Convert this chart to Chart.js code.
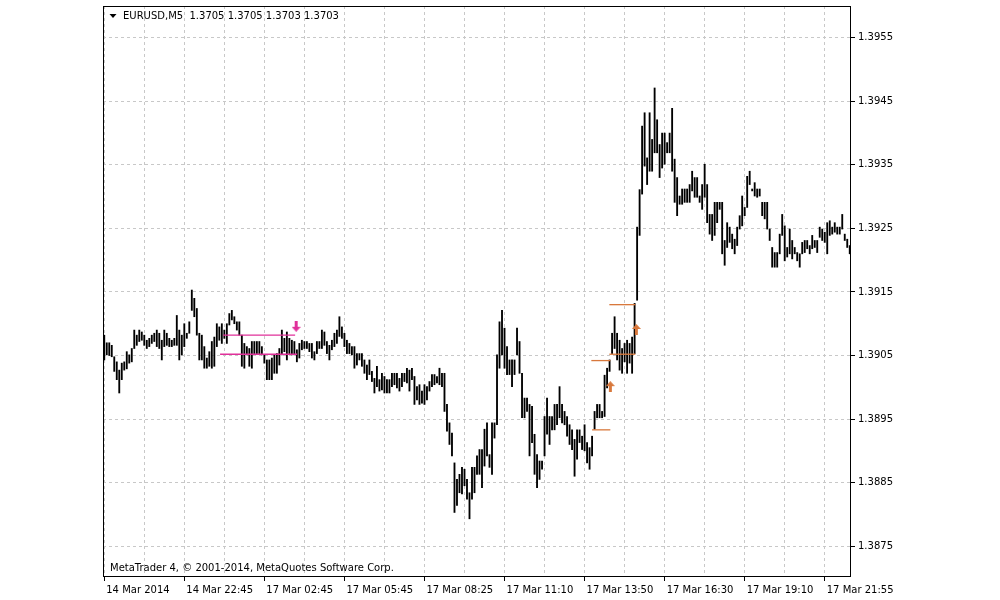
<!DOCTYPE html>
<html>
<head>
<meta charset="utf-8">
<script src="https://cdn.jsdelivr.net/npm/chart.js@4/dist/chart.umd.min.js"></script>
<style>
  html, body { margin: 0; background: #fff; }
</style>
</head>
<body>
<canvas id="chart" width="1000" height="600"></canvas>
<script>
// EURUSD M5 bars, values are pips above BASE
const BASE = 1.38;

const highs = [
  108.2,107.0,107.0,106.6,104.8,104.0,102.7,103.8,104.0,105.6,105.1,106.1,109.0,108.2,109.0,108.7,108.2,107.4,107.7,108.2,
  108.5,109.0,108.5,107.4,109.0,108.5,107.7,107.4,107.7,111.3,109.0,108.2,110.0,108.5,110.3,115.3,114.0,112.4,108.5,108.2,
  106.4,104.6,105.6,107.2,107.9,110.0,109.5,110.0,109.0,110.0,
  111.6,112.1,111.1,110.3,110.3,108.2,106.9,106.4,106.1,107.2,107.2,107.2,107.2,106.4,105.1,104.3,104.3,104.6,105.1,105.3,
  106.1,109.0,107.7,108.7,107.7,107.4,107.2,105.9,106.9,107.4,107.2,107.2,106.9,106.9,105.6,107.2,107.2,109.0,108.7,107.2,
  106.6,107.4,108.5,109.0,111.1,109.5,108.5,107.4,106.9,106.4,
  106.4,105.3,105.3,105.3,104.3,103.5,104.3,102.5,101.4,103.3,101.2,102.2,101.7,101.2,101.2,102.2,102.2,102.2,101.4,102.2,
  102.2,103.0,102.7,103.0,101.7,100.1,100.4,99.4,100.4,100.1,100.9,102.0,102.0,101.7,103.0,102.2,102.2,97.3,94.4,92.8,
  88.1,85.5,86.3,87.4,87.1,85.5,83.4,87.4,87.4,89.2,
  90.2,90.2,93.4,94.4,89.4,94.4,94.4,105.1,110.3,112.1,109.3,106.4,104.3,104.3,104.3,109.3,107.2,102.2,98.3,98.3,
  97.3,97.0,92.6,89.4,88.4,88.4,95.4,98.3,95.4,95.4,97.3,97.3,100.1,97.3,96.2,95.4,94.1,93.3,91.8,93.3,
  93.3,92.3,94.1,91.3,90.5,92.3,96.2,97.3,97.3,96.2,
  101.9,103.0,104.3,108.5,111.1,108.5,107.4,106.1,106.9,107.4,106.9,107.9,113.2,125.2,131.1,141.1,143.2,136.1,143.2,139.0,
  147.1,142.1,138.2,140.0,140.0,138.5,140.0,143.9,135.9,133.0,130.1,131.2,131.2,131.2,131.9,134.0,133.0,133.0,130.1,131.9,
  135.1,131.9,127.2,127.2,129.1,129.1,129.1,129.1,123.1,125.9,
  125.2,124.1,123.3,125.2,127.0,130.1,128.3,133.2,134.0,131.2,132.2,131.2,131.2,129.1,129.1,129.1,124.9,122.0,121.2,121.2,
  124.1,127.2,125.4,122.0,124.9,123.1,122.0,121.2,121.0,122.8,123.1,123.1,122.3,123.9,123.1,123.1,125.2,124.9,124.4,125.9,
  126.2,125.2,125.9,125.2,125.2,127.2,124.1,123.3,122.3
];

const lows = [
  104.3,105.1,105.0,104.8,102.5,101.2,99.1,101.2,102.7,102.9,103.8,104.0,106.1,106.6,107.2,107.4,106.6,106.1,106.4,106.9,
  107.2,106.4,106.1,104.3,106.4,106.6,106.4,106.4,106.6,106.6,104.3,105.1,106.4,107.7,108.5,112.1,111.1,108.2,104.3,104.3,
  103.0,103.0,103.3,103.0,103.3,106.4,107.4,106.9,107.7,106.9,
  109.8,110.6,110.0,109.0,108.2,103.3,103.0,105.1,103.3,103.0,105.3,105.3,105.3,105.1,103.8,101.2,101.2,101.2,102.2,102.2,
  103.5,105.1,105.6,104.3,105.3,105.1,105.1,104.0,104.6,105.9,106.1,106.1,105.6,104.6,104.3,105.3,106.1,106.1,106.6,105.3,
  104.3,105.9,106.4,106.9,108.0,107.7,106.4,105.3,105.3,105.1,
  103.0,103.5,104.3,103.3,102.2,101.2,102.0,100.9,99.1,100.1,99.4,99.6,99.1,99.1,99.1,100.1,100.4,99.9,99.4,100.1,
  100.9,100.7,99.4,101.2,97.3,98.0,97.3,97.5,97.3,98.0,99.4,100.1,100.4,100.7,100.4,100.1,96.2,93.1,91.0,89.2,
  80.3,81.4,83.4,83.2,84.5,82.4,79.3,82.4,83.4,86.3,
  86.3,84.2,87.6,89.2,87.4,86.3,92.0,94.1,103.0,105.1,103.0,102.0,102.0,100.1,102.0,105.1,102.2,95.2,95.2,96.2,
  89.2,91.3,86.3,84.2,85.5,87.1,89.2,92.6,91.0,93.3,93.3,94.1,95.2,94.4,94.1,92.3,91.0,90.2,86.0,88.7,
  91.3,90.2,90.0,88.1,87.1,89.2,93.4,95.2,95.2,95.2,
  95.4,99.9,102.5,105.3,106.1,104.3,102.7,102.2,104.0,102.2,103.8,102.2,105.3,113.7,123.9,130.4,134.8,131.9,134.0,134.0,
  136.9,136.9,133.0,134.5,135.1,136.9,136.9,134.0,129.1,127.0,128.8,128.8,129.1,129.1,129.1,130.9,129.9,129.9,129.1,128.0,
  129.9,125.9,124.1,123.1,123.9,125.9,128.0,121.0,119.2,122.0,
  122.8,121.8,121.0,122.3,124.9,125.4,127.0,128.3,131.9,130.9,130.1,129.9,130.1,127.0,126.5,124.9,123.1,118.9,118.9,118.9,
  121.0,123.9,119.9,120.5,121.0,120.2,121.0,119.9,118.9,121.0,121.2,121.8,121.0,121.8,122.0,121.2,123.6,123.1,122.8,121.0,
  123.9,124.1,124.4,124.1,124.1,124.9,123.1,122.0,121.0
];

// time axis: bar index of each label
const xLabelBars = [0, 32, 64, 96, 128, 160, 192, 224, 256, 288];
const xTickLabels = ['14 Mar 2014', '14 Mar 22:45', '17 Mar 02:45', '17 Mar 05:45', '17 Mar 08:25',
                     '17 Mar 11:10', '17 Mar 13:50', '17 Mar 16:30', '17 Mar 19:10', '17 Mar 21:55'];
const yTickValues = [1.3875, 1.3885, 1.3895, 1.3905, 1.3915, 1.3925, 1.3935, 1.3945, 1.3955];
const yMin = 1.38703;
const yMax = 1.39600;

// indicator levels: [fromBar, toBar, pips]
const pinkLevels = [[47.5, 76.3, 108.2], [46.3, 77.1, 105.2]];
const orangeLevels = [[201.9, 212.3, 113.0], [201.9, 212.3, 105.2], [194.7, 202.3, 104.2], [195.0, 202.3, 93.3]];
// arrows: [bar, pips]
const pinkArrows = [[76.7, 109.6]];
const orangeArrows = [[202.3, 100.1], [212.7, 109.1]];

const PINK = '#e0309a';
const ORANGE = '#d8783c';
const FONT = { family: 'DejaVu Sans', size: 10 };

const toPrice = p => BASE + p / 10000;
const lastBar = highs.length - 1;

const gridBars = xLabelBars.flatMap(b => [b, b + 16]).filter(b => b <= lastBar);

function makeArrow(color, down) {
  const c = document.createElement('canvas');
  c.width = 9;
  c.height = 11;
  const g = c.getContext('2d');
  if (down) {
    g.translate(0, 11);
    g.scale(1, -1);
  }
  g.fillStyle = color;
  g.beginPath();
  g.moveTo(4.5, 0);
  g.lineTo(9, 5);
  g.lineTo(6, 5);
  g.lineTo(6, 11);
  g.lineTo(3, 11);
  g.lineTo(3, 5);
  g.lineTo(0, 5);
  g.closePath();
  g.fill();
  return c;
}

const levelSet = (lv, color) => lv.map(l => ({
  type: 'line',
  data: [{ x: l[0], y: toPrice(l[2]) }, { x: l[1], y: toPrice(l[2]) }],
  borderColor: color,
  borderWidth: 1.3,
  pointRadius: 0,
  order: 2
}));

// frame + the terminal's header/footer texts
const frame = {
  id: 'frame',
  afterDraw(chart) {
    const { ctx, chartArea: a } = chart;
    ctx.save();
    ctx.strokeStyle = '#000';
    ctx.lineWidth = 1;
    ctx.strokeRect(a.left + 0.5, a.top + 0.5, a.right - a.left - 1, a.bottom - a.top);

    ctx.fillStyle = '#000';
    ctx.beginPath();
    ctx.moveTo(a.left + 6.5, a.top + 8);
    ctx.lineTo(a.left + 13.5, a.top + 8);
    ctx.lineTo(a.left + 10, a.top + 12);
    ctx.closePath();
    ctx.fill();

    ctx.font = '10px "DejaVu Sans"';
    ctx.textBaseline = 'middle';
    ctx.textAlign = 'left';
    ctx.fillText('EURUSD,M5  1.3705 1.3705 1.3703 1.3703', a.left + 20, a.top + 10);
    ctx.fillText('MetaTrader 4, \u00A9 2001-2014, MetaQuotes Software Corp.', a.left + 7, a.bottom - 8);
    ctx.restore();
  }
};

new Chart(document.getElementById('chart'), {
  type: 'bar',
  data: {
    datasets: [
      {
        type: 'bar',
        data: highs.map((h, i) => ({ x: i, y: [toPrice(lows[i]), toPrice(h)] })),
        backgroundColor: '#000',
        barThickness: 1.2,
        order: 3
      },
      ...levelSet(pinkLevels, PINK),
      ...levelSet(orangeLevels, ORANGE),
      {
        type: 'scatter',
        data: pinkArrows.map(a => ({ x: a[0], y: toPrice(a[1]) })),
        pointStyle: makeArrow(PINK, true),
        pointRadius: 5,
        order: 1
      },
      {
        type: 'scatter',
        data: orangeArrows.map(a => ({ x: a[0], y: toPrice(a[1]) })),
        pointStyle: makeArrow(ORANGE, false),
        pointRadius: 5,
        order: 1
      }
    ]
  },
  options: {
    responsive: false,
    animation: false,
    events: [],
    layout: { padding: { left: 103, top: 3, right: 0, bottom: 0 } },
    plugins: { legend: { display: false }, tooltip: { enabled: false } },
    scales: {
      x: {
        type: 'linear',
        min: -0.5,
        max: lastBar + 0.5,
        offset: false,
        afterBuildTicks: s => { s.ticks = gridBars.map(v => ({ value: v })); },
        afterFit: s => { s.height = 24; s.paddingLeft = 0; s.paddingRight = 0; },
        grid: {
          offset: false,
          color: '#c8c8c8',
          tickLength: 5,
          tickBorderDash: [],
          tickColor: ctx => (ctx.tick && xLabelBars.includes(ctx.tick.value)) ? '#000' : 'rgba(0,0,0,0)'
        },
        border: { display: false, dash: [3, 3] },
        ticks: {
          autoSkip: false,
          maxRotation: 0,
          align: 'start',
          padding: 3,
          labelOffset: 2,
          color: '#000',
          font: FONT,
          callback: v => {
            const k = xLabelBars.indexOf(v);
            return k >= 0 ? xTickLabels[k] : '';
          }
        }
      },
      y: {
        position: 'right',
        min: yMin,
        max: yMax,
        afterBuildTicks: s => { s.ticks = yTickValues.map(v => ({ value: v })); },
        afterFit: s => { s.width = 149; s.paddingTop = 0; s.paddingBottom = 0; },
        grid: { color: '#c8c8c8', tickLength: 4, tickColor: '#000', tickBorderDash: [] },
        border: { display: false, dash: [3, 3] },
        ticks: { padding: 3, color: '#000', font: FONT, callback: v => v.toFixed(4) }
      }
    }
  },
  plugins: [frame]
});
</script>
</body>
</html>
